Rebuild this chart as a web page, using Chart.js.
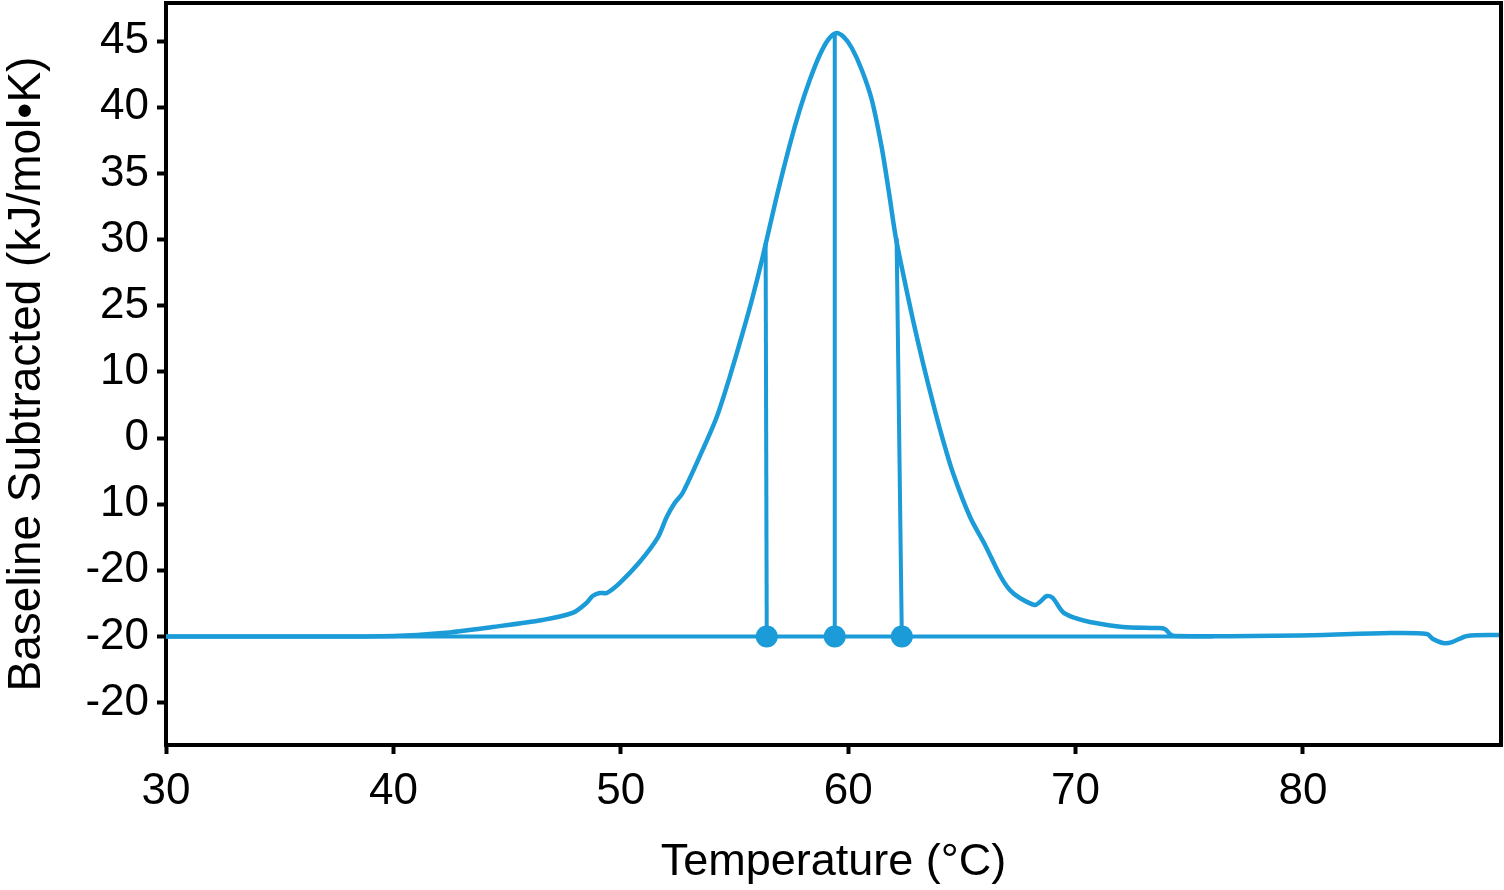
<!DOCTYPE html>
<html>
<head>
<meta charset="utf-8">
<script src="https://cdn.jsdelivr.net/npm/chart.js@4/dist/chart.umd.min.js"></script>
<style>
  html, body { margin: 0; padding: 0; background: #ffffff; overflow: hidden; }
  #wrap { width: 1504px; height: 890px; position: relative; }
  canvas { display: block; }
</style>
</head>
<body>
<div id="wrap"><canvas id="c"></canvas></div>
<script>
// ---- data ----
const curveTemps = [30, 35.87, 40.01, 42.16, 44.36, 46.56, 47.88, 48.49, 48.76, 49.07, 49.38, 49.95, 50.83, 51.62, 52.02, 52.37, 52.72, 53.60, 54.22, 54.79, 55.36, 55.80, 56.24, 56.82, 57.43, 57.87, 58.31, 58.75, 59.11, 59.46, 59.81, 60.16, 60.60, 61.04, 61.48, 61.79, 62.09, 62.41, 62.85, 63.29, 63.73, 64.17, 64.61, 65.36, 66.02, 66.67, 67.11, 67.55, 68.21, 68.43, 68.74, 69.00, 69.44, 69.97, 70.63, 72.08, 73.58, 73.93, 74.15, 74.37, 79.87, 83.83, 85.45, 85.72, 86.16, 86.56, 87.22, 88.75];
const curveValues = [0, 0, 0.04, 0.26, 0.72, 1.25, 1.78, 2.53, 3.06, 3.29, 3.29, 4.04, 5.63, 7.45, 9.03, 10.09, 10.85, 14.10, 16.59, 19.61, 22.94, 25.66, 28.68, 32.99, 37.15, 39.80, 42.06, 43.95, 45.08, 45.60, 45.30, 44.48, 42.82, 40.55, 36.92, 33.60, 30.20, 27.47, 23.92, 20.67, 17.65, 14.85, 12.36, 9.03, 6.92, 4.65, 3.51, 2.91, 2.38, 2.61, 3.06, 2.91, 1.85, 1.40, 1.10, 0.72, 0.64, 0.57, 0.19, 0.04, 0.08, 0.26, 0.19, -0.19, -0.49, -0.42, 0.04, 0.11];

const baselineTemps = [30, 76.04];
const baselineValues = [0, 0];

const markerTemps = [56.42, 59.41, 62.36];
const markerTopTemps = [56.37, 59.41, 62.13];
const markerTopValues = [29.74, 45.6, 30.1];

const xTickValues = [30, 40, 50, 60, 70, 80];
const yTickValues = [45, 40, 35, 30, 25, 20, 15, 10, 5, 0, -5];
const yTickLabels = ['45', '40', '35', '30', '25', '10', '0', '10', '-20', '-20', '-20'];

const xTitle = 'Temperature (°C)';
const yTitle = 'Baseline Subtracted (kJ/mol•K)';

// ---- build chart ----
const BLUE = '#1b9bd7';
const FONT = 'Liberation Sans';

const toPts = (xs, ys) => xs.map((x, i) => ({ x: x, y: ys[i] }));

const datasets = [];
datasets.push({
  data: toPts(baselineTemps, baselineValues),
  borderColor: BLUE, borderWidth: 4, pointRadius: 0, showLine: true, tension: 0
});
datasets.push({
  data: toPts(curveTemps, curveValues),
  borderColor: BLUE, borderWidth: 4.5, pointRadius: 0, showLine: true,
  tension: 0.3, borderJoinStyle: 'round'
});
markerTemps.forEach((t, i) => {
  datasets.push({
    data: [{ x: markerTopTemps[i], y: markerTopValues[i] }, { x: t, y: 0 }],
    borderColor: BLUE, borderWidth: 4, pointRadius: 0, showLine: true, tension: 0
  });
});
datasets.push({
  data: markerTemps.map(t => ({ x: t, y: 0 })),
  showLine: false, pointRadius: 11, pointBackgroundColor: BLUE, pointBorderWidth: 0,
  borderColor: BLUE
});

const framePlugin = {
  id: 'frame',
  afterDraw(chart) {
    const { ctx, chartArea: a } = chart;
    ctx.save();
    ctx.strokeStyle = '#000';
    ctx.lineWidth = 4;
    ctx.beginPath();
    ctx.moveTo(a.left - 2, a.top);
    ctx.lineTo(a.right, a.top);
    ctx.lineTo(a.right, a.bottom + 2);
    ctx.stroke();
    ctx.restore();
  }
};

new Chart(document.getElementById('c'), {
  type: 'scatter',
  data: { datasets },
  options: {
    responsive: true,
    maintainAspectRatio: false,
    animation: false,
    layout: { autoPadding: false, padding: { top: 3, right: 3, left: 0, bottom: 0 } },
    plugins: { legend: { display: false }, tooltip: { enabled: false } },
    scales: {
      x: {
        type: 'linear', min: 30, max: 88.71,
        afterBuildTicks: s => { s.ticks = xTickValues.map(v => ({ value: v })); },
        afterFit: s => { s.height = 145; s.paddingLeft = 0; s.paddingRight = 0; },
        grid: { display: true, drawOnChartArea: false, drawTicks: true, tickLength: 9, tickWidth: 4, tickColor: '#000' },
        border: { display: true, color: '#000', width: 4 },
        ticks: { color: '#000', font: { family: FONT, size: 44 }, padding: 11, maxRotation: 0 },
        title: { display: true, text: xTitle, color: '#000', font: { family: FONT, size: 45 }, padding: { top: 0, bottom: 0 } }
      },
      y: {
        type: 'linear', min: -8.2, max: 47.88,
        afterBuildTicks: s => { s.ticks = yTickValues.map(v => ({ value: v })); },
        afterFit: s => { s.width = 166; s.paddingTop = 0; s.paddingBottom = 0; },
        grid: { display: true, drawOnChartArea: false, drawTicks: true, tickLength: 9, tickWidth: 4, tickColor: '#000' },
        border: { display: true, color: '#000', width: 4 },
        ticks: {
          color: '#000', font: { family: FONT, size: 44 }, padding: 8,
          callback: v => { const i = yTickValues.indexOf(v); return i >= 0 ? yTickLabels[i] : ''; }
        },
        title: { display: true, text: yTitle, color: '#000', font: { family: FONT, size: 46 }, padding: { top: 0, bottom: 0 } }
      }
    }
  },
  plugins: [framePlugin]
});
</script>
</body>
</html>
